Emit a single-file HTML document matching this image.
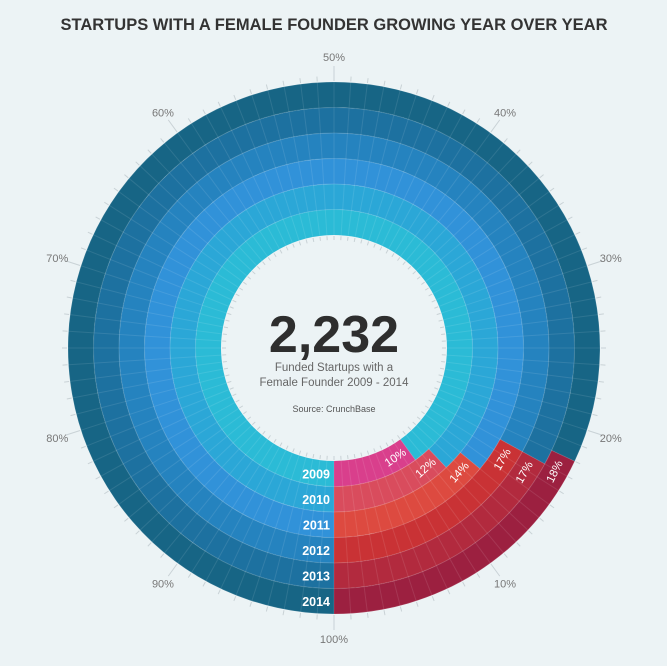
<!DOCTYPE html>
<html><head><meta charset="utf-8"><style>
html,body{margin:0;padding:0;background:#ecf3f5;}
svg{display:block;font-family:"Liberation Sans",sans-serif;}
</style></head><body>
<svg id="chart" width="667" height="666" viewBox="0 0 667 666">
<rect width="667" height="666" fill="#ecf3f5"/>
<text x="334" y="30" text-anchor="middle" font-size="16.5" font-weight="bold" fill="#333">STARTUPS WITH A FEMALE FOUNDER GROWING YEAR OVER YEAR</text>
<g id="rings"></g>
<g id="ticks"></g>
<g id="labels"></g>
<text x="334" y="352" text-anchor="middle" font-size="52" font-weight="bold" fill="#2e2e2e">2,232</text>
<text x="334" y="371" text-anchor="middle" font-size="11.5" fill="#666">Funded Startups with a</text>
<text x="334" y="386" text-anchor="middle" font-size="11.5" fill="#666">Female Founder 2009 - 2014</text>
<text x="334" y="412" text-anchor="middle" font-size="9" fill="#555">Source: CrunchBase</text>
</svg>
<script>
const years = ["2009","2010","2011","2012","2013","2014"];
const femalePct = [10,12,14,17,17,18];
const tickLabels = ["100%","10%","20%","30%","40%","50%","60%","70%","80%","90%"];
const blueColors = ["#2bbbd6","#2ba7d7","#3192d9","#2583bf","#1d71a0","#176585"];
const redColors = ["#d93f8c","#d94c5d","#dd4a40","#c93235","#b22a3e","#9c2040"];
const NS="http://www.w3.org/2000/svg";
const cx=334, cy=348, r0=113, rw=25.5;
function pt(p,r){const t=p/100*2*Math.PI;return [cx+r*Math.sin(t), cy+r*Math.cos(t)];}
function arcPath(p0,p1,ri,ro){
  const a=pt(p0,ro),b=pt(p1,ro),c=pt(p1,ri),d=pt(p0,ri);
  const large=(p1-p0)>50?1:0;
  // increasing p goes counter-clockwise on screen => sweep 0
  return `M${a[0]},${a[1]} A${ro},${ro} 0 ${large} 0 ${b[0]},${b[1]} L${c[0]},${c[1]} A${ri},${ri} 0 ${large} 1 ${d[0]},${d[1]} Z`;
}
function mk(tag,attrs,parent){const e=document.createElementNS(NS,tag);for(const k in attrs)e.setAttribute(k,attrs[k]);parent.appendChild(e);return e;}
const rings=document.getElementById('rings');
years.forEach((y,i)=>{
  const ri=r0+i*rw, ro=ri+rw;
  const bl=mk('path',{d:arcPath(femalePct[i],99.999,ri,ro),fill:blueColors[i]},rings);
  
  
  const rd=mk('path',{d:arcPath(0,femalePct[i],ri,ro),fill:redColors[i]},rings);
  
  
});
// segment lines
const ticks=document.getElementById('ticks');
const rOut=r0+6*rw;
for(let p=0;p<100;p++){
  const a=pt(p,r0),b=pt(p,rOut);
  const l=mk('line',{x1:a[0],y1:a[1],x2:b[0],y2:b[1],stroke:'#ffffff','stroke-opacity':0.1,'stroke-width':1},ticks);
  
  
  const big=p%10===0;
  const c=pt(p,rOut+1),d=pt(p,rOut+(big?16:6));
  const t=mk('line',{x1:c[0],y1:c[1],x2:d[0],y2:d[1],stroke:'#c9d2d6','stroke-width':1},ticks);
  
  
  const e=pt(p,r0-1),f=pt(p,r0-5);
  const it=mk('line',{x1:e[0],y1:e[1],x2:f[0],y2:f[1],stroke:'#c9d2d6','stroke-width':1},ticks);
  
  
}
for(let i=1;i<=6;i++){
  const c=mk('circle',{cx:cx,cy:cy,r:r0+i*rw,fill:'none',stroke:'#ffffff','stroke-opacity':0.15,'stroke-width':1},ticks);
  
  
}
// labels
const labels=document.getElementById('labels');
tickLabels.forEach((s,i)=>{
  const q=pt(i*10,291);
  const t=mk('text',{x:q[0],y:q[1]+4,'text-anchor':'middle','font-size':11,fill:'#777'},labels);
  t.textContent=s;
  
  
});
years.forEach((y,i)=>{
  const ry=cy+r0+i*rw+rw/2+4.5;
  const t=mk('text',{x:330,y:ry,'text-anchor':'end','font-size':12.5,'font-weight':'bold',fill:'#fff'},labels);
  t.textContent=y;
  
  
  const rm=r0+i*rw+rw/2;
  const p=femalePct[i]-0.4;
  const q=pt(p,rm);
  const ang=-p/100*360;
  const v=mk('text',{x:q[0],y:q[1],'text-anchor':'end','dominant-baseline':'central','font-size':11.5,fill:'#fff',transform:`rotate(${ang} ${q[0]} ${q[1]})`},labels);
  v.textContent=femalePct[i]+'%';
  
  
});
</script>
</body></html>
